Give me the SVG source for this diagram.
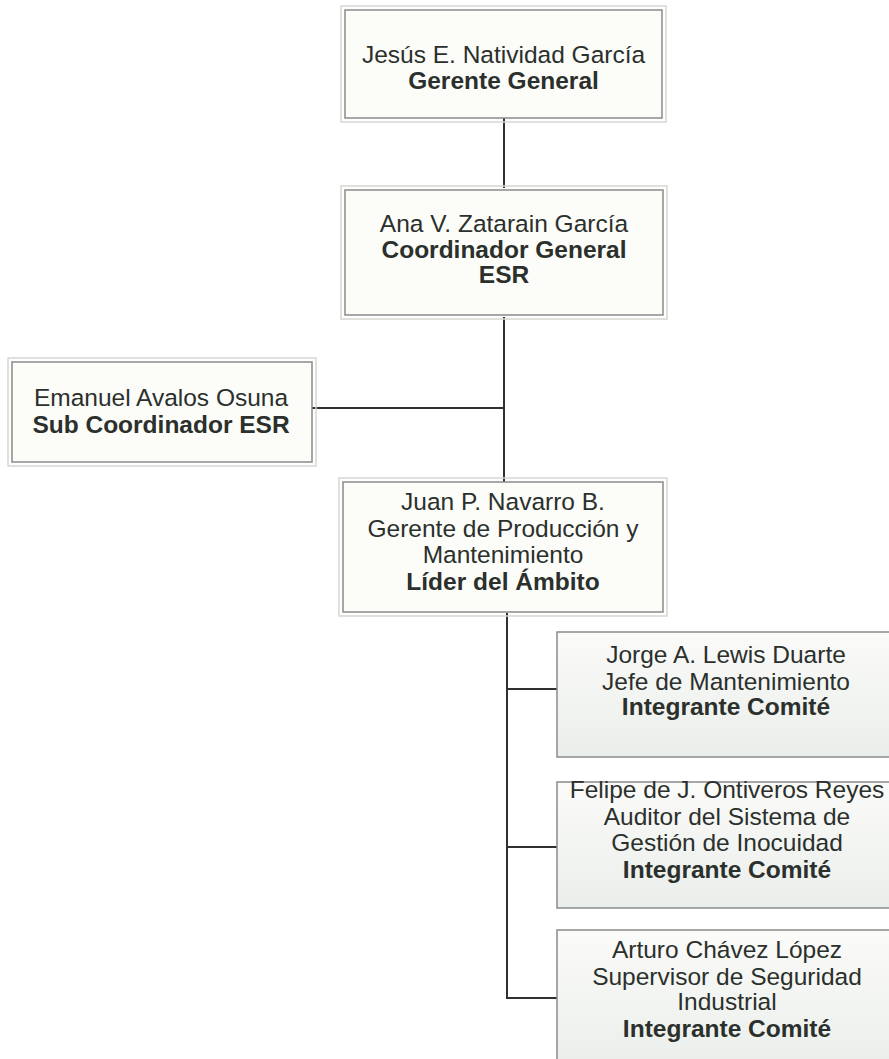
<svg xmlns="http://www.w3.org/2000/svg" width="889" height="1059" viewBox="0 0 889 1059">
<defs>
<style>
.box{fill:#fcfcf9;stroke:#8a8a8a;stroke-width:1.5}
.shadow{fill:none;stroke:#d6d6d2;stroke-width:1.5}
.t{font-family:"Liberation Sans",Arial,sans-serif;font-size:24.5px;fill:#2b302c;text-anchor:middle}
.b{font-weight:bold}
.c{fill:none;stroke:#2f312f;stroke-width:2}
</style>
<linearGradient id="g" x1="0" y1="0" x2="0" y2="1">
<stop offset="0" stop-color="#fbfbf9"/>
<stop offset="1" stop-color="#eaeeea"/>
</linearGradient>
</defs>
<rect width="889" height="1059" fill="#ffffff"/>
<g id="connectors">
<path class="c" d="M504 118V188M504 317V482M312 408H504M507 613V999M507 689H557M507 847H557M507 998H557"/>
</g>
<g id="n1">
<rect class="shadow" x="341" y="6" width="325" height="116"/>
<rect class="box" x="345" y="10" width="317" height="108"/>
<text class="t" x="503.5" y="63">Jesús E. Natividad García</text>
<text class="t b" x="503.5" y="89">Gerente General</text>
</g>
<g id="n2">
<rect class="shadow" x="341" y="186" width="326" height="133"/>
<rect class="box" x="345" y="190" width="318" height="125"/>
<text class="t" x="504" y="232">Ana V. Zatarain García</text>
<text class="t b" x="504" y="258">Coordinador General</text>
<text class="t b" x="504" y="283">ESR</text>
</g>
<g id="n3">
<rect class="shadow" x="8" y="358" width="308" height="108"/>
<rect class="box" x="12" y="362" width="300" height="100"/>
<text class="t" x="161" y="406">Emanuel Avalos Osuna</text>
<text class="t b" x="161" y="433">Sub Coordinador ESR</text>
</g>
<g id="n4">
<rect class="shadow" x="339" y="478" width="328" height="138"/>
<rect class="box" x="343" y="482" width="320" height="130"/>
<text class="t" x="503" y="510">Juan P. Navarro B.</text>
<text class="t" x="503" y="537">Gerente de Producción y</text>
<text class="t" x="503" y="563">Mantenimiento</text>
<text class="t b" x="503" y="590">Líder del Ámbito</text>
</g>
<g id="n5">
<rect class="box" x="557" y="632" width="340" height="125" style="fill:url(#g)"/>
<text class="t" x="726" y="663">Jorge A. Lewis Duarte</text>
<text class="t" x="726" y="690">Jefe de Mantenimiento</text>
<text class="t b" x="726" y="715">Integrante Comité</text>
</g>
<g id="n6">
<rect class="box" x="557" y="782" width="340" height="126" style="fill:url(#g)"/>
<text class="t" x="727" y="798">Felipe de J. Ontiveros Reyes</text>
<text class="t" x="727" y="825">Auditor del Sistema de</text>
<text class="t" x="727" y="851">Gestión de Inocuidad</text>
<text class="t b" x="727" y="878">Integrante Comité</text>
</g>
<g id="n7">
<rect class="box" x="557" y="930" width="340" height="140" style="fill:url(#g)"/>
<text class="t" x="727" y="958">Arturo Chávez López</text>
<text class="t" x="727" y="985">Supervisor de Seguridad</text>
<text class="t" x="727" y="1010">Industrial</text>
<text class="t b" x="727" y="1037">Integrante Comité</text>
</g>
</svg>
